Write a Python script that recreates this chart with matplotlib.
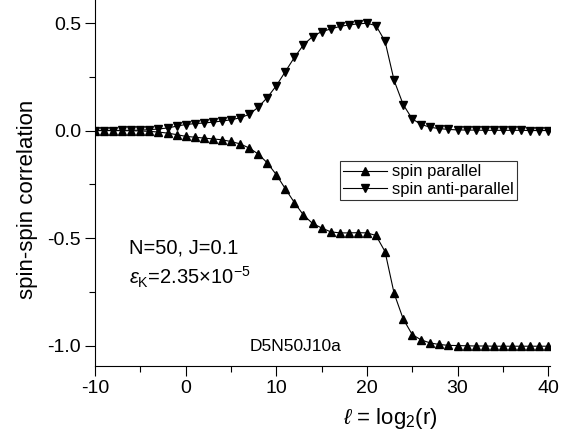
import matplotlib
matplotlib.use("Agg")
import matplotlib.pyplot as plt
from matplotlib.ticker import MultipleLocator

plt.rcParams['font.family'] = ['Liberation Sans', 'DejaVu Sans']
plt.rcParams['mathtext.fontset'] = 'custom'
plt.rcParams['mathtext.rm'] = 'Liberation Sans'
plt.rcParams['mathtext.it'] = 'Liberation Sans:italic'
plt.rcParams['axes.unicode_minus'] = False

ell = list(range(-10, 41))

spin_parallel = [
    0.0, 0.0, 0.0, -0.001, -0.001, -0.002, -0.004, -0.007, -0.012, -0.019,
    -0.027, -0.031, -0.035, -0.039, -0.043, -0.051, -0.062, -0.081, -0.109, -0.150,
    -0.205, -0.271, -0.335, -0.393, -0.432, -0.453, -0.471, -0.476, -0.476, -0.475,
    -0.476, -0.488, -0.563, -0.757, -0.876, -0.949, -0.974, -0.988, -0.995, -0.999,
    -1.0, -1.001, -1.002, -1.002, -1.003, -1.003, -1.003, -1.003, -1.003, -1.003, -1.003,
]

spin_anti_parallel = [
    0.0, 0.0, 0.0, 0.001, 0.001, 0.002, 0.004, 0.007, 0.012, 0.020,
    0.028, 0.032, 0.035, 0.039, 0.044, 0.050, 0.059, 0.075, 0.108, 0.153,
    0.208, 0.274, 0.340, 0.398, 0.437, 0.460, 0.472, 0.484, 0.491, 0.496,
    0.499, 0.488, 0.415, 0.233, 0.121, 0.054, 0.028, 0.015, 0.009, 0.005,
    0.003, 0.002, 0.002, 0.001, 0.001, 0.001, 0.001, 0.001, 0.0, 0.0, 0.0,
]

x_ticks = [-10, 0, 10, 20, 30, 40]
y_ticks = [-1.0, -0.5, 0.0, 0.5]
y_tick_labels = ['-1.0', '-0.5', '0.0', '0.5']

fig = plt.figure(figsize=(5.74, 4.41), dpi=100)
ax = fig.add_axes([95/574, 75/441, 455/574, 366/441])

ax.plot(ell, spin_parallel, color='black', lw=0.8, marker='^', ms=6.3,
        label='spin parallel')
ax.plot(ell, spin_anti_parallel, color='black', lw=0.8, marker='v', ms=6.3,
        label='spin anti-parallel')

ax.set_xlim(-10, 40.2)
ax.set_ylim(-1.095, 0.607)
ax.set_xticks(x_ticks)
ax.set_yticks(y_ticks)
ax.set_yticklabels(y_tick_labels)
ax.xaxis.set_minor_locator(MultipleLocator(5))
ax.yaxis.set_minor_locator(MultipleLocator(0.25))
ax.tick_params(which='major', direction='out', length=7, width=0.8, labelsize=14, pad=3)
ax.tick_params(which='minor', direction='out', length=4, width=0.8)
ax.spines['top'].set_visible(False)
ax.spines['right'].set_visible(False)

fig.text(28/574, 1 - 199/441, 'spin-spin correlation', rotation=90,
         ha='center', va='center', fontsize=16)
fig.text(390/574, 1 - 424/441, r'$\ell$ = log$_2$(r)', ha='center', va='baseline', fontsize=16)

fig.text(129/574, 1 - 253/441, 'N=50, J=0.1', fontsize=14.5, ha='left', va='baseline')
fig.text(129/574, 1 - 285/441, r'$\varepsilon_{\mathrm{K}}$=2.35×10$^{-5}$', fontsize=14.5,
         ha='left', va='baseline')
fig.text(250/574, 1 - 351/441, 'D5N50J10a', fontsize=12.5, ha='left', va='baseline')

leg = ax.legend(loc='upper left', bbox_to_anchor=((340-95)/455, (366-161)/366),
                frameon=True, fancybox=False, edgecolor='black', fontsize=12,
                handlelength=2.6, handletextpad=0.3, borderpad=0.2, labelspacing=0.15,
                borderaxespad=0)
leg.get_frame().set_linewidth(0.8)

fig.savefig('out.png', dpi=100)
